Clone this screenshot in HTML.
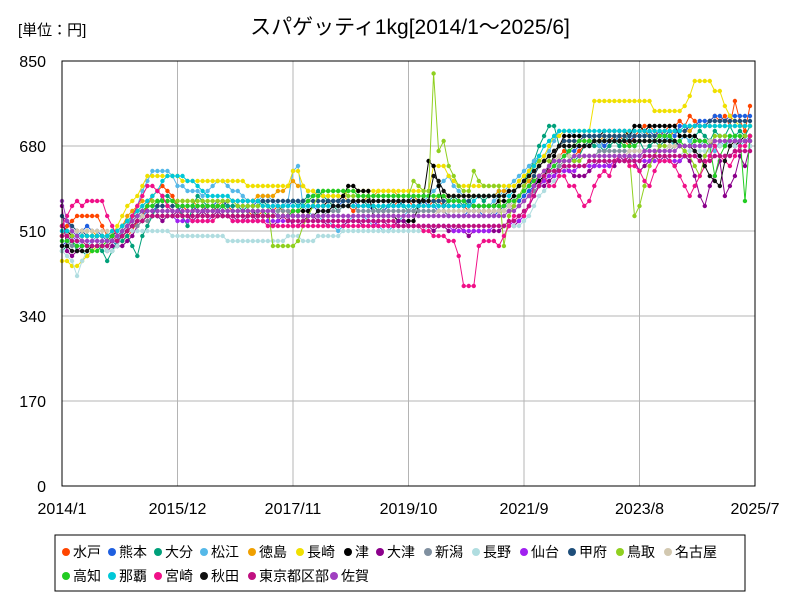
<!DOCTYPE html>
<html><head><meta charset="utf-8">
<style>
body{margin:0;background:#fff;}
svg text{font-family:"Liberation Sans","Noto Sans CJK JP",sans-serif;}
</style></head>
<body>
<svg id="chart" width="800" height="600" viewBox="0 0 800 600">
<rect width="800" height="600" fill="#fff"/>
<text x="18" y="35" font-size="15">[単位：円]</text>
<text x="410" y="34" font-size="21" text-anchor="middle">スパゲッティ1kg[2014/1～2025/6]</text>
<g id="grid"></g>
<g id="series"></g>
<rect x="62" y="61" width="693" height="425" fill="none" stroke="#000" stroke-width="1"/>
<g id="axes"></g>
<rect x="55" y="535" width="690" height="56" fill="#fff" stroke="#000" stroke-width="1"/>
<g id="legend"></g>
</svg>
<script>
const names=["水戸","熊本","大分","松江","徳島","長崎","津","大津","新潟","長野","仙台","甲府","鳥取","名古屋","高知","那覇","宮崎","秋田","東京都区部","佐賀"];
const colors=["#ff4500","#1e5fe0","#00a07a","#55b8e8","#f0a000","#f0e000","#000000","#8b008b","#8090a0","#b0dde0","#a020f0","#1e4e7a","#90d020","#d2c8b0","#22cc22","#00c8d8","#f01088","#101010","#c01080","#a040c0"];
const yTicks=[0,170,340,510,680,850];
const xTickLabels=["2014/1","2015/12","2017/11","2019/10","2021/9","2023/8","2025/7"];
const xTickIdx=[0,23,46,69,92,115,138];
const s0=[500,520,530,540,540,540,540,540,520,500,500,490,490,500,510,530,540,560,580,590,600,590,580,560,560,550,550,560,560,550,550,560,560,560,550,550,550,550,540,540,550,550,550,560,550,550,550,550,550,550,560,560,560,570,560,560,560,560,550,560,560,560,560,550,550,560,560,570,570,570,560,560,560,560,570,570,560,560,560,560,560,550,550,550,550,550,550,550,560,560,560,560,570,580,600,620,630,640,650,660,670,660,660,670,680,690,690,680,690,690,700,700,690,680,700,710,720,720,710,700,710,720,720,730,720,740,730,720,720,730,740,730,740,720,770,730,710,760];
const s1=[480,490,500,500,510,520,510,510,500,490,490,480,500,510,520,530,540,550,550,560,560,560,550,550,560,560,560,550,550,560,560,570,570,560,560,560,560,560,560,570,570,560,560,560,560,560,570,570,560,560,560,550,550,550,560,560,570,570,570,560,560,560,550,550,550,560,560,560,570,570,580,570,570,560,560,550,550,540,540,540,540,550,550,550,540,540,540,550,560,560,570,570,580,590,600,610,620,630,640,650,660,670,670,680,680,680,690,690,680,690,690,700,700,690,700,700,700,710,700,710,700,710,700,720,720,710,720,730,730,730,740,740,730,740,740,740,740,740];
const s2=[470,480,490,470,470,460,470,480,470,450,470,490,490,500,480,460,500,520,540,560,580,580,570,560,540,520,560,580,570,560,560,550,560,560,560,560,550,560,560,560,570,560,550,550,560,570,570,560,570,580,580,590,580,570,560,550,560,560,570,570,570,560,560,550,560,560,570,570,560,550,550,560,570,570,570,560,560,570,580,570,560,570,580,580,570,580,580,590,590,590,590,600,610,630,650,680,700,720,720,680,680,660,650,660,680,690,680,680,670,680,690,680,700,690,680,690,670,680,690,680,690,700,680,690,700,690,700,710,700,690,710,700,700,720,700,710,700,720];
const s3=[510,500,500,490,480,480,490,500,500,500,490,490,510,520,540,560,590,610,630,630,630,630,620,600,600,590,590,590,580,590,600,610,610,600,590,590,580,570,570,570,580,580,570,560,560,570,630,640,560,550,540,540,530,530,520,510,520,530,540,540,540,530,520,520,510,510,520,530,540,550,560,560,570,580,590,600,610,620,600,590,580,560,560,560,560,560,570,580,590,600,610,620,630,640,650,660,660,670,690,710,710,710,700,700,700,700,690,680,690,700,700,690,690,700,710,710,700,700,690,690,700,690,680,690,700,690,680,680,690,680,670,690,680,690,700,680,690,700];
const s4=[500,500,510,510,510,510,510,500,500,500,510,510,520,540,550,560,570,570,570,570,570,570,570,570,570,570,570,560,560,560,560,560,570,570,570,570,570,570,570,580,580,580,580,590,590,600,610,600,600,590,590,580,580,580,580,580,580,570,570,570,570,580,580,590,590,590,590,580,580,580,580,570,570,570,570,580,580,580,580,580,580,580,580,580,580,580,580,590,590,590,590,600,600,610,620,640,650,660,670,680,690,690,690,690,690,690,690,690,700,700,700,700,700,710,710,710,710,700,700,700,700,700,710,710,710,710,720,720,720,720,720,720,720,720,720,720,720,720];
const s5=[450,450,440,440,450,460,470,480,480,490,500,520,540,560,570,580,600,620,620,620,620,620,620,620,610,610,610,610,610,610,610,610,610,610,610,610,610,600,600,600,600,600,600,600,600,600,630,630,600,590,590,580,580,580,580,580,580,590,590,590,590,590,590,590,590,590,590,590,590,590,590,590,590,590,640,640,640,620,610,600,600,600,600,600,600,600,600,600,600,600,600,610,620,630,640,650,660,680,700,700,710,710,710,710,710,710,770,770,770,770,770,770,770,770,770,770,770,770,750,750,750,750,750,750,760,780,810,810,810,810,790,790,760,740,730,720,720,720];
const s6=[520,510,500,500,500,500,500,500,500,500,500,510,520,530,540,540,550,550,550,550,550,550,550,550,550,550,550,550,550,550,550,550,550,550,550,550,550,550,550,540,540,540,540,540,540,540,550,550,550,550,560,560,560,570,570,570,580,600,600,590,590,590,540,540,540,540,540,530,530,530,530,560,580,650,640,600,560,560,560,560,560,560,560,560,560,560,560,570,570,570,580,580,590,600,600,610,620,640,660,680,700,700,700,700,700,700,700,700,710,710,710,710,710,700,720,720,710,720,720,720,720,720,720,700,700,700,700,690,690,690,680,680,680,680,680,690,700,700];
const s7=[560,470,460,470,480,480,480,480,480,470,480,480,480,490,500,520,530,540,540,540,530,540,540,550,540,540,530,540,550,540,540,550,540,540,540,530,530,540,540,530,530,530,520,530,540,540,520,520,530,540,540,530,530,520,520,520,520,530,530,530,520,520,520,530,530,520,520,530,530,520,520,520,520,520,510,520,520,510,510,520,510,500,510,510,510,510,510,510,520,520,520,530,540,560,580,600,600,610,620,640,640,630,620,620,620,630,640,650,650,640,640,660,650,660,650,630,640,650,660,650,660,650,640,650,660,650,620,580,560,600,620,650,580,600,620,660,640,680];
const s8=[490,490,480,480,480,480,480,480,490,490,490,490,500,510,520,520,530,530,540,540,540,540,540,540,540,540,540,540,540,540,540,540,540,540,540,540,540,540,540,550,550,550,550,550,550,550,540,540,540,540,540,540,540,550,550,550,560,560,560,550,550,550,550,550,550,550,550,550,550,550,550,550,550,550,550,550,550,540,540,540,540,540,540,540,540,540,550,550,550,550,560,560,570,580,590,600,610,620,630,640,650,650,660,660,660,660,660,670,670,670,670,670,670,670,670,670,670,670,670,670,670,670,680,680,680,680,680,680,680,680,690,690,690,690,690,690,690,690];
const s9=[470,460,450,420,450,470,480,480,480,470,470,480,500,510,510,510,510,510,510,510,510,510,500,500,500,500,500,500,500,500,500,500,500,490,490,490,490,490,490,490,490,490,490,490,490,500,500,500,490,490,490,500,500,500,500,500,510,510,510,510,510,510,510,510,510,510,510,510,510,510,510,510,510,520,520,520,520,520,520,520,520,520,520,520,520,520,520,520,520,520,520,520,530,540,560,580,590,600,610,620,630,640,640,640,640,640,650,650,650,650,650,650,650,650,660,660,660,660,660,660,660,660,660,660,670,670,670,670,670,670,680,680,680,680,680,680,680,680];
const s10=[500,500,500,490,490,490,490,490,490,490,500,500,510,520,530,540,540,540,540,540,540,540,540,530,530,530,530,530,530,530,540,540,540,540,530,530,530,530,530,530,530,530,530,530,530,530,530,530,530,530,530,530,530,530,530,530,530,530,530,530,530,530,530,520,520,520,520,520,520,520,520,520,520,520,520,520,520,520,510,510,510,510,510,510,510,510,520,520,520,520,530,530,540,560,580,600,610,620,620,630,630,630,630,640,640,640,640,640,640,640,650,650,650,650,650,650,650,650,650,650,650,650,650,650,660,660,660,660,660,660,660,660,660,660,670,670,670,670];
const s11=[540,530,520,510,510,500,500,500,500,500,500,510,520,530,540,550,550,560,560,560,560,560,560,560,560,560,560,560,560,560,560,560,560,570,570,570,570,570,570,570,570,570,570,570,570,570,570,570,570,570,570,570,570,570,570,570,570,570,570,570,570,570,570,570,570,570,570,570,570,570,570,570,570,570,570,570,570,570,570,570,570,570,560,560,560,560,560,560,560,570,570,580,590,600,620,640,650,660,670,680,690,690,690,690,700,700,700,700,700,700,700,700,700,700,700,700,700,700,700,700,700,710,710,710,710,720,720,720,720,730,730,730,730,730,730,730,730,730];
const s12=[500,500,500,500,500,500,500,500,500,500,510,510,520,530,540,550,560,570,570,570,570,570,570,570,570,570,570,570,570,570,570,570,570,570,570,560,560,560,560,560,560,560,480,480,480,480,480,490,520,540,560,580,590,590,590,590,590,580,580,580,580,580,580,580,580,580,580,580,580,580,610,600,590,590,825,670,690,640,620,600,590,590,630,610,600,600,600,600,480,540,560,580,600,620,640,650,650,650,650,650,650,650,650,650,660,660,660,660,660,660,660,660,660,660,540,560,600,640,660,680,680,680,680,680,670,660,640,620,660,680,700,700,700,700,700,700,700,700];
const s13=[510,510,510,510,510,510,510,510,510,510,510,510,520,520,530,530,540,540,540,540,540,540,540,540,540,540,540,540,540,540,540,540,540,540,540,540,540,540,540,540,540,540,540,540,540,540,540,540,540,540,540,540,540,540,540,540,540,540,540,540,540,540,540,540,540,540,540,540,540,540,540,540,540,540,540,550,550,550,550,550,550,550,550,550,550,550,550,550,550,560,570,580,590,600,610,620,630,640,650,660,660,660,660,660,660,660,660,660,660,660,660,660,660,670,670,670,670,670,670,670,670,680,680,680,680,680,690,690,690,690,690,690,690,690,690,690,690,690];
const s14=[490,490,490,480,480,480,470,470,480,490,500,500,510,520,530,540,550,560,560,570,570,570,570,560,560,560,560,560,560,560,560,560,560,550,550,550,550,550,550,550,550,540,540,540,540,540,550,550,560,570,580,580,590,590,590,590,590,590,590,580,580,580,580,580,580,580,580,580,580,580,580,580,580,580,580,580,580,570,570,570,570,560,560,560,560,560,560,560,560,570,570,580,590,600,610,620,620,630,640,650,660,670,680,690,690,690,690,690,690,690,690,690,680,680,680,690,690,690,690,700,700,700,690,690,680,680,690,690,690,680,620,660,680,700,700,700,570,700];
const s15=[510,510,510,500,500,500,500,500,500,500,510,510,520,530,540,550,560,570,580,590,610,620,620,620,620,610,610,600,590,580,580,580,580,580,570,570,570,570,570,570,560,560,560,560,560,560,560,560,560,560,560,560,560,560,560,560,560,560,560,560,560,560,560,560,560,560,560,560,560,560,560,560,560,560,560,560,560,560,560,560,560,560,570,580,580,580,580,580,580,580,590,600,610,620,640,660,680,690,700,710,710,710,710,710,710,710,710,710,710,710,710,710,710,710,710,710,710,710,710,710,710,710,710,710,720,720,720,720,720,720,720,720,720,720,720,720,720,720];
const s16=[520,540,560,570,560,570,570,570,570,540,520,500,500,510,540,560,580,600,600,590,580,560,550,550,540,540,530,530,530,530,530,540,540,540,530,530,530,530,530,530,530,520,520,520,520,520,520,520,520,520,520,520,520,520,520,520,520,520,520,520,520,520,520,520,520,520,520,520,520,520,520,520,510,510,500,500,500,490,490,460,400,400,400,480,490,490,490,480,500,520,540,540,540,560,600,620,620,600,600,620,620,600,600,580,560,570,600,620,630,620,650,660,660,640,640,630,610,600,630,650,650,650,640,620,600,580,600,620,640,660,680,660,650,640,660,680,680,700];
const s17=[480,480,470,470,470,470,480,480,480,480,490,490,500,510,520,530,530,540,540,540,540,540,540,540,540,540,540,540,540,540,540,540,540,540,540,540,540,540,540,540,540,540,540,540,540,540,540,540,540,540,540,550,550,550,560,560,560,560,570,570,570,570,570,570,570,570,570,570,570,570,570,570,570,570,620,610,590,580,580,580,580,580,580,580,580,580,580,580,580,590,590,600,610,620,630,640,650,660,670,680,680,680,680,680,680,680,690,690,690,690,690,690,690,690,690,690,690,690,690,690,690,690,690,680,680,680,670,660,640,620,610,600,650,680,690,690,690,690];
const s18=[500,500,490,490,490,480,480,480,480,480,490,490,500,510,520,530,530,540,540,540,540,540,540,540,540,540,540,540,540,540,540,540,540,540,540,540,540,540,540,540,540,540,540,540,540,530,530,530,530,530,530,530,530,530,530,530,530,530,530,530,530,530,530,530,530,530,530,520,520,520,520,520,520,520,520,520,520,520,520,520,520,520,520,520,520,520,520,520,520,530,530,540,550,560,580,600,620,630,630,630,640,640,640,640,640,650,650,650,650,650,650,650,650,650,650,650,660,660,660,660,660,660,660,660,660,660,660,650,650,650,660,660,660,660,670,670,670,670];
const s19=[570,530,510,500,490,490,490,490,490,490,490,500,510,520,530,540,550,550,550,550,550,550,550,550,550,550,550,550,550,550,550,550,550,550,550,550,550,550,550,550,550,550,550,540,540,540,540,540,540,540,540,540,540,540,540,540,540,540,540,540,540,540,540,540,540,540,540,540,540,540,540,540,540,540,540,540,540,540,540,540,540,540,540,540,540,540,540,540,540,550,550,560,570,580,600,620,630,640,650,650,650,650,660,660,660,660,660,660,660,660,660,660,660,660,660,660,670,670,670,670,670,670,670,680,680,680,680,680,680,680,690,690,690,690,690,690,690,690];
const seriesData=[s0,s1,s2,s3,s4,s5,s6,s7,s8,s9,s10,s11,s12,s13,s14,s15,s16,s17,s18,s19];

const NS="http://www.w3.org/2000/svg";
const X0=62,X1=755,Y0=486,Y1=61;
const xScale=i=>X0+(X1-X0)*i/138;
const yScale=v=>Y0-(Y0-Y1)*v/850;
function mk(tag,attrs,parent){const e=document.createElementNS(NS,tag);for(const k in attrs)e.setAttribute(k,attrs[k]);parent.appendChild(e);return e;}
const grid=document.getElementById('grid'),axes=document.getElementById('axes'),ser=document.getElementById('series'),leg=document.getElementById('legend');
yTicks.forEach(v=>{
  const y=yScale(v);
  const l=mk('line',{x1:X0,x2:X1,y1:y,y2:y,stroke:'#b4b4b4','stroke-width':1},grid);
  
  
  const t=mk('text',{x:46,y:y+6,'font-size':16,'text-anchor':'end'},axes);
  t.textContent=v;
  
  
});
xTickIdx.forEach((ix,k)=>{
  const x=xScale(ix);
  const l=mk('line',{x1:x,x2:x,y1:Y1,y2:Y0,stroke:'#b4b4b4','stroke-width':1},grid);
  
  
  const t=mk('text',{x:x,y:514,'font-size':16,'text-anchor':'middle'},axes);
  t.textContent=xTickLabels[k];
  
  
});
seriesData.forEach((d,si)=>{
  const g=mk('g',{},ser);
  
  
  const pts=d.map((v,i)=>xScale(i).toFixed(1)+','+yScale(v).toFixed(1)).join(' ');
  const pl=mk('polyline',{points:pts,fill:'none',stroke:colors[si],'stroke-width':1},g);
  
  
  d.forEach((v,i)=>{
    const c=mk('circle',{cx:xScale(i),cy:yScale(v),r:2.2,fill:colors[si]},g);
    
    
  });
});
const legX=[61,107,153,199,247,295,343,375,423,471,519,567,615,663,61,107,153,199,247,329];
names.forEach((n,i)=>{
  const row=i<14?0:1;
  const y=row?576:552;
  const g=mk('g',{},leg);
  
  
  mk('circle',{cx:legX[i]+5,cy:y,r:4,fill:colors[i]},g);
  const t=mk('text',{x:legX[i]+12,y:y+5,'font-size':14},g);
  t.textContent=n;
});
</script>
</body></html>
